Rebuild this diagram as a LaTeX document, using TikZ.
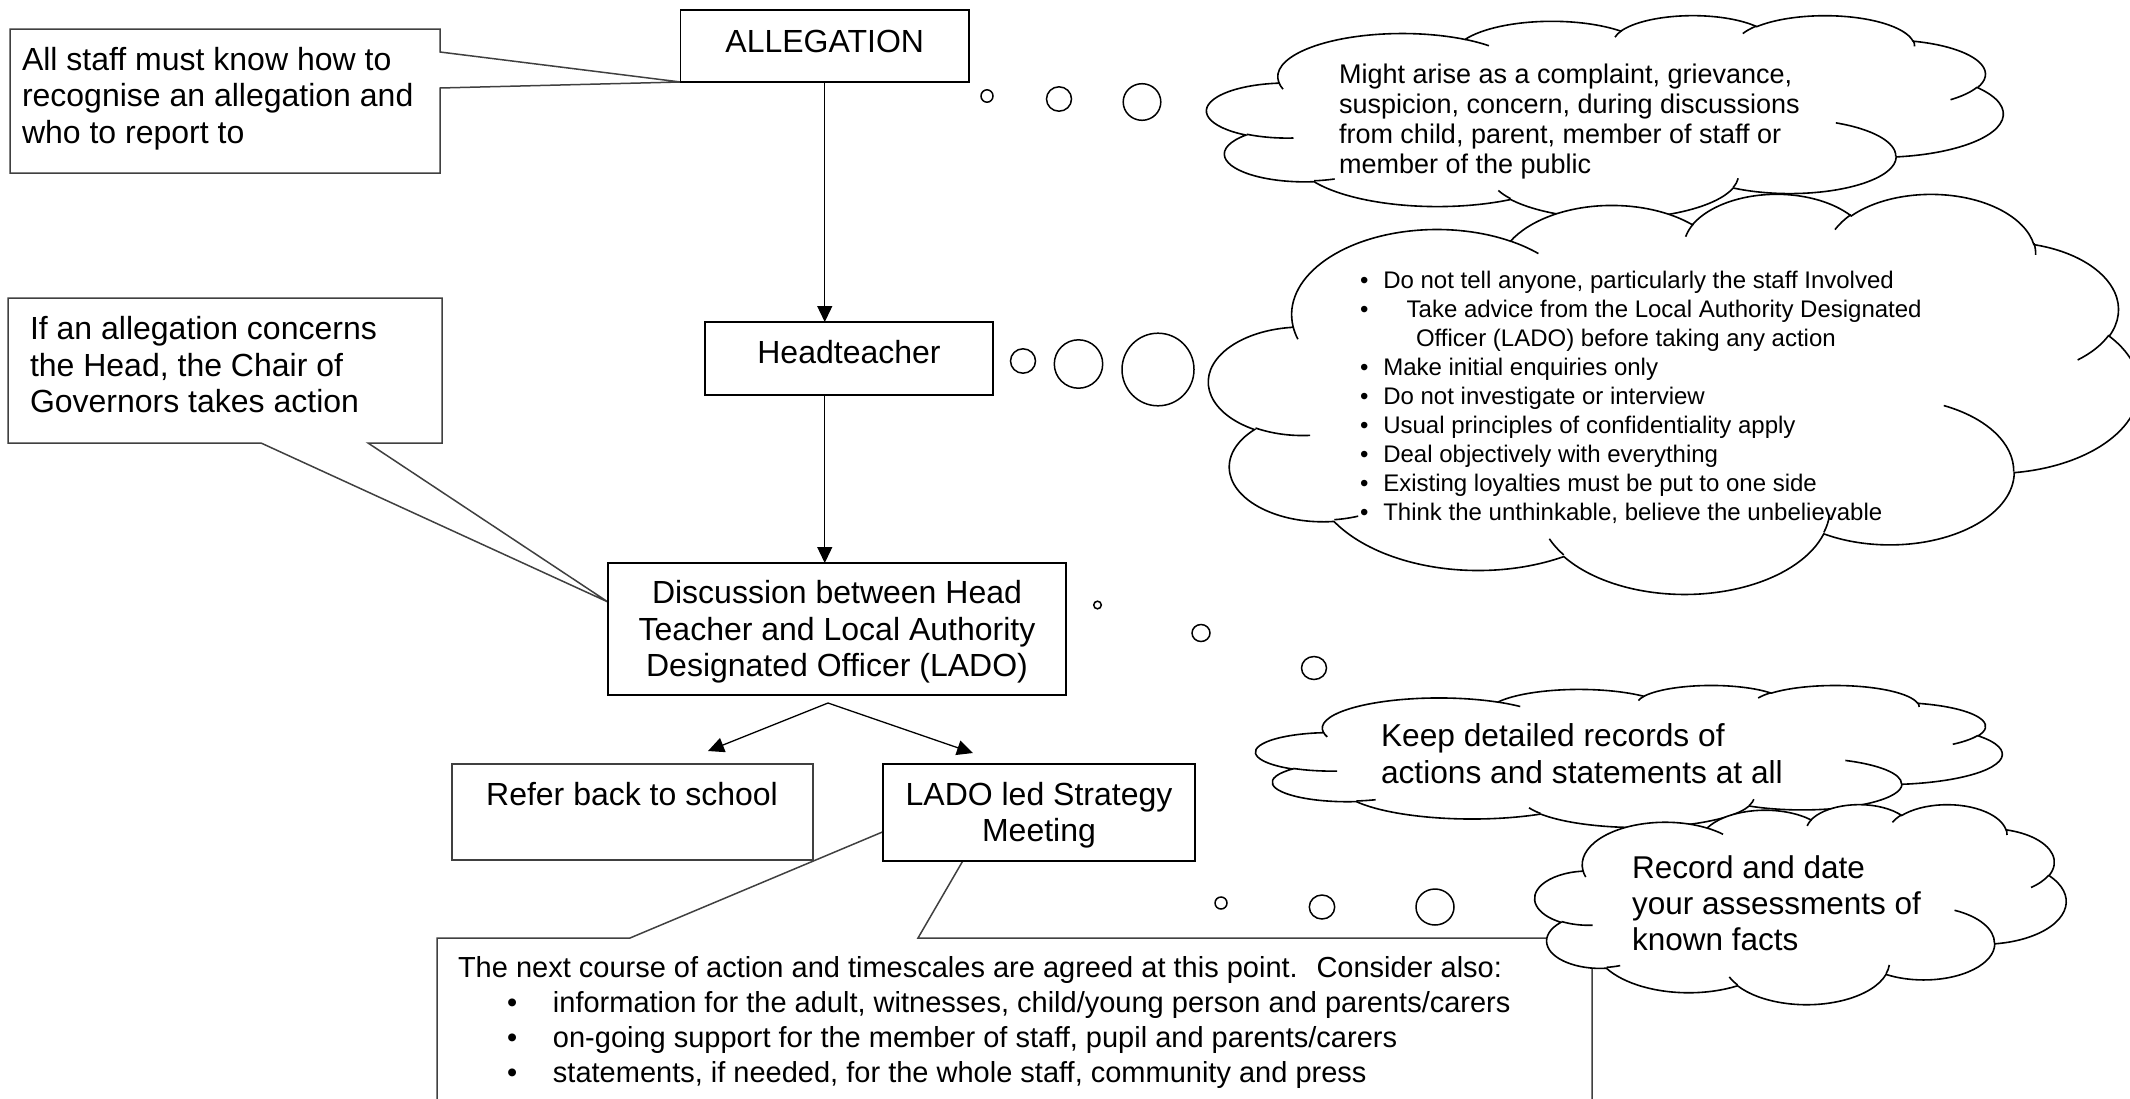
\documentclass[tikz,border=0pt]{standalone}
\usepackage{fontspec}
\setmainfont{Liberation Sans}
\usetikzlibrary{arrows.meta,backgrounds}
\tikzset{
  mainbox/.style={draw=black, line width=0.9pt, fill=white, inner sep=0pt, outer sep=0pt},
  geom/.style={inner sep=0pt, outer sep=0pt},
  callline/.style={draw=black!75, line width=0.75pt, fill=white},
  arr/.style={line width=0.65pt, -{Triangle[length=8pt,width=7.5pt]}},
  cloudline/.style={line width=0.8pt, draw=black},
  bub/.style={line width=0.75pt, draw=black, fill=white},
  txt/.style={inner sep=0pt, outer sep=0pt},
}
\newcommand\fbig{\fontsize{16}{18.35}\selectfont}
\newcommand\cloudat[4]{%
\begin{scope}[shift={(#1,#2)}, xscale=#3/432, yscale=#4/432]
\path[cloudline, fill=white, draw] (39.00,143.70)
 arc[start angle=-187.745, end angle=-59.637, x radius=67.53, y radius=91.90]
 arc[start angle=-152.033, end angle=-45.449, x radius=53.33, y radius=72.67]
 arc[start angle=-153.50, end angle=-37.33, x radius=43.65, y radius=59.45]
 arc[start angle=-139.71, end angle=-10.21, x radius=48.57, y radius=65.95]
 arc[start angle=-74.77, end angle=23.21, x radius=53.33, y radius=72.73]
 arc[start angle=-37.53, end angle=81.86, x radius=67.75, y radius=92.20]
 arc[start angle=0.46, end angle=121.98, x radius=57.85, y radius=78.67]
 arc[start angle=16.84, end angle=146.22, x radius=67.52, y radius=92.15]
 arc[start angle=58.99, end angle=150.19, x radius=77.20, y radius=105.43]
 arc[start angle=-276.69, end angle=-136.92, x radius=43.60, y radius=59.18]
 arc[start angle=-239.64, end angle=-95.89, x radius=43.45, y radius=59.45]
 -- cycle;
\draw[cloudline]
 (46.93,261.77) arc[start angle=85.546, end angle=120.36, x radius=43.45, y radius=59.45]
 (69.28,348.99) arc[start angle=68.23, end angle=83.31, x radius=43.60, y radius=59.18]
 (164.78,390.90) arc[start angle=146.22, end angle=158.47, x radius=67.52, y radius=92.15]
 (288.27,347.51) arc[start angle=4.738, end angle=16.84, x radius=67.52, y radius=92.15]
 (341.29,229.54) arc[start angle=-64.03, end angle=0.46, x radius=57.85, y radius=78.67]
 (417.98,153.54) arc[start angle=23.21, end angle=49.64, x radius=53.33, y radius=72.73]
 (383.24,54.26) arc[start angle=-10.21, end angle=0.821, x radius=48.57, y radius=65.95]
 (290.78,39.52) arc[start angle=-156.29, end angle=-139.71, x radius=48.57, y radius=65.95]
 (221.41,47.20) arc[start angle=-167.73, end angle=-153.50, x radius=43.65, y radius=59.45]
 (140.00,51.92) arc[start angle=-59.637, end angle=-45.73, x radius=67.53, y radius=91.90]
 (41.27,157.89) arc[start angle=163.20, end angle=172.255, x radius=67.53, y radius=91.90];
\end{scope}}
\begin{document}
\begin{tikzpicture}[x=0.5pt,y=-0.5pt]
\useasboundingbox (0,0) rectangle (2130,1098);
% ---------- main boxes
\node[mainbox, minimum width=144.25pt, minimum height=36pt] (alleg) at (824.75,46) {};
\node[mainbox, minimum width=144pt, minimum height=36.5pt] (head) at (849,358.5) {};
\node[mainbox, minimum width=229pt, minimum height=66pt] (disc) at (837,629) {};
\node[mainbox, draw=black!75, line width=0.75pt, minimum width=180.5pt, minimum height=48pt] (refer) at (632.5,812) {};
\node[mainbox, minimum width=156pt, minimum height=48.5pt] (lado) at (1039,812.5) {};
% ---------- callout geometry
\node[geom, minimum width=215pt, minimum height=72pt] (staff) at (225,101) {};
\node[geom, minimum width=217pt, minimum height=72.5pt] (ifbox) at (225,370.5) {};
\node[geom, minimum width=577.5pt, minimum height=86pt] (nextbox) at (1014.5,1024) {};
\coordinate (nextTip) at (1011,778);
\begin{scope}[on background layer]
\draw[callline] (staff.north west) -- (staff.north east) -- (staff.east |- 0,52) -- (alleg.south west)
  -- (staff.east |- 0,88) -- (staff.south east) -- (staff.south west) -- cycle;
\draw[callline] (ifbox.north west) -- (ifbox.north east) -- (ifbox.south east) -- (ifbox.south -| 368,0)
  -- (disc.west |- 0,602) -- (ifbox.south -| 261,0) -- (ifbox.south west) -- cycle;
\draw[callline] (nextbox.south west) -- (nextbox.north west) -- (nextbox.north -| 630,0) -- (nextTip)
  -- (nextbox.north -| 918,0) -- (nextbox.north east) -- (nextbox.south east);
\end{scope}
% ---------- texts of boxes
\node[txt, anchor=base] (tAlleg) at (824.75,52) {\fbig ALLEGATION};
\node[txt, anchor=base] (tHead) at (849,363) {\fbig Headteacher};
\node[txt, anchor=base] (tDisc) at (837,603.3) {\parbox[t]{230pt}{\centering\fbig Discussion between Head\\Teacher and Local Authority\\Designated Officer (LADO)}};
\node[txt, anchor=base] (tRefer) at (632,805) {\fbig Refer back to school};
\node[txt, anchor=base] (tLado) at (1039,805) {\parbox[t]{156pt}{\centering\fbig LADO led Strategy\\Meeting}};
\node[txt, anchor=base west] (tStaff) at (22,70) {\parbox[t]{210pt}{\fbig All staff must know how to\\recognise an allegation and\\who to report to}};
\node[txt, anchor=base west] (tIf) at (30,339.3) {\parbox[t]{210pt}{\fbig If an allegation concerns\\the Head, the Chair of\\Governors takes action}};
\node[txt, anchor=base west] (tNext) at (458,977) {\parbox[t]{570pt}{\fontsize{14.5}{17.5}\selectfont
The next course of action and timescales are agreed at this point.~ Consider also:\\
\hspace*{24.5pt}\makebox[23pt][l]{\textbullet}information for the adult, witnesses, child/young person and parents/carers\\
\hspace*{24.5pt}\makebox[23pt][l]{\textbullet}on-going support for the member of staff, pupil and parents/carers\\
\hspace*{24.5pt}\makebox[23pt][l]{\textbullet}statements, if needed, for the whole staff, community and press}};
% ---------- arrows
\coordinate (split) at (828,703);
\coordinate (referTip) at (708,751);
\coordinate (ladoTip) at (973,753);
\draw[arr] (alleg.south) -- (alleg.south |- head.north);
\draw[arr] (alleg.south |- head.south) -- (alleg.south |- disc.north);
\draw[arr] (split) -- (referTip);
\draw[arr] (split) -- (ladoTip);
% ---------- clouds
\cloudat{1207}{15}{796}{203}
\node[txt, anchor=base west] (tCloudA) at (1339,83.3) {\parbox[t]{420pt}{\fontsize{13.5}{15}\selectfont
Might arise as a complaint, grievance,\\suspicion, concern, during discussions\\from child, parent, member of staff or\\member of the public}};
\cloudat{1209}{193}{930}{400}
\node[txt, anchor=base west] (tCloudB) at (1360,288) {\parbox[t]{400pt}{\fontsize{12}{14.5}\selectfont
\makebox[11.65pt][l]{\textbullet}Do not tell anyone, particularly the staff Involved\\
\makebox[23.35pt][l]{\textbullet}Take advice from the Local Authority Designated\\
\hspace*{28pt}Officer (LADO) before taking any action\\
\makebox[11.65pt][l]{\textbullet}Make initial enquiries only\\
\makebox[11.65pt][l]{\textbullet}Do not investigate or interview\\
\makebox[11.65pt][l]{\textbullet}Usual principles of confidentiality apply\\
\makebox[11.65pt][l]{\textbullet}Deal objectively with everything\\
\makebox[11.65pt][l]{\textbullet}Existing loyalties must be put to one side\\
\makebox[11.65pt][l]{\textbullet}Think the unthinkable, believe the unbelievable}};
\cloudat{1256}{685}{746}{142}
\node[txt, anchor=base west] (tCloudC) at (1381,746) {\parbox[t]{300pt}{\fontsize{15.85}{18.65}\selectfont
Keep detailed records of\\actions and statements at all}};
\cloudat{1535}{804}{531}{200}
\node[txt, anchor=base west] (tCloudD) at (1632,878.3) {\parbox[t]{200pt}{\fontsize{15.75}{18}\selectfont
Record and date\\your assessments of\\known facts}};
% ---------- thought bubbles
\draw[bub] (987,96) circle[x radius=6, y radius=6.2];
\draw[bub] (1059,99) circle[x radius=12.5, y radius=12.2];
\draw[bub] (1142,102) circle[x radius=18.8, y radius=18.3];
\draw[bub] (1023,361) circle[x radius=12.5, y radius=12.2];
\draw[bub] (1078.5,364) circle[x radius=24.2, y radius=24.2];
\draw[bub] (1158,369.5) circle[x radius=36, y radius=36.3];
\draw[bub] (1097.5,605) circle[x radius=3.8, y radius=3.8];
\draw[bub] (1201,633) circle[x radius=9, y radius=8.5];
\draw[bub] (1314,668) circle[x radius=12.5, y radius=11.5];
\draw[bub] (1221,903) circle[x radius=6, y radius=6];
\draw[bub] (1322,907) circle[x radius=12.7, y radius=12];
\draw[bub] (1435,907) circle[x radius=19, y radius=18];
\end{tikzpicture}
\end{document}
